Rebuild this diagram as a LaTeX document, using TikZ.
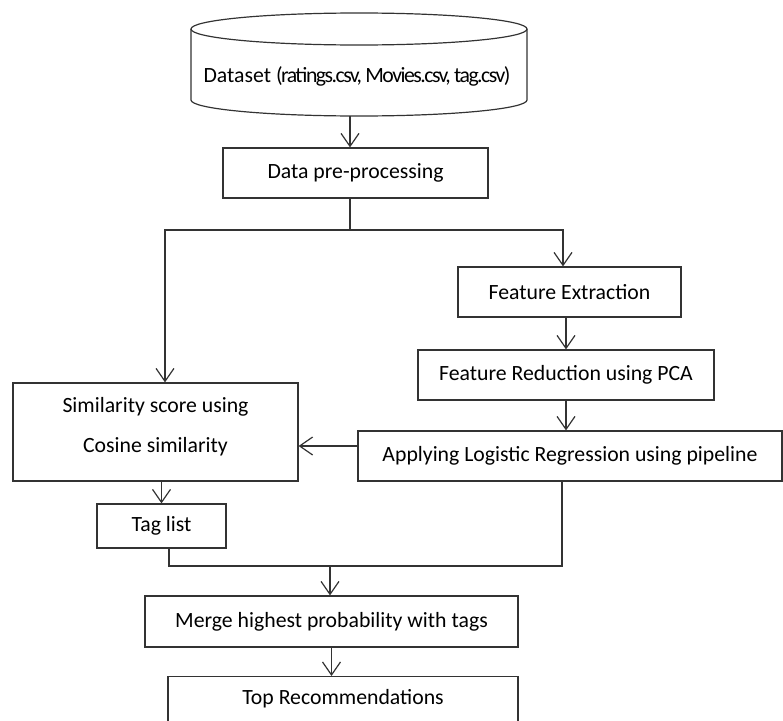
\documentclass[tikz,border=0pt]{standalone}
\usepackage{fontspec}
\setmainfont{Carlito}
\usetikzlibrary{arrows.meta}
\definecolor{LineGray}{HTML}{333333}

\tikzset{
  boxfont/.style={font=\fontsize{21.75}{26}\selectfont},
  procbox/.style={draw=LineGray, line width=1.2pt, inner sep=0pt, boxfont},
  flowline/.style={draw=LineGray, line width=1.2pt},
  flowarrow/.style={flowline, -{Straight Barb[length=13pt,width=18pt]}},
}

\begin{document}
\begin{tikzpicture}[x=1pt,y=-1pt]
  \useasboundingbox (0,0) rectangle (783,720);
  % Dataset cylinder
  \draw[flowline] (359,29) ellipse [x radius=168, y radius=16];
  \draw[flowline] (191,29) -- (191,100) arc[start angle=180, end angle=0, x radius=168, y radius=16] -- (527,29);
  \node[boxfont] (db) at (357,76) {Dataset {\addfontfeature{LetterSpace=-7}(ratings.csv, Movies.csv, tag.csv)}};
  \coordinate (dbbottom) at (350,116);
  % Boxes
  \node[procbox, minimum width=265pt, minimum height=50pt] (pre) at (355.5,173) {Data pre-processing};
  \node[procbox, minimum width=223pt, minimum height=50pt] (fe) at (569.5,292) {Feature Extraction};
  \node[procbox, minimum width=296pt, minimum height=50pt] (fr) at (566,375) {Feature Reduction using PCA};
  \node[procbox, minimum width=424pt, minimum height=50pt] (lr) at (570,456) {Applying Logistic Regression using pipeline};
  \node[procbox, minimum width=285pt, minimum height=98pt, align=center, text depth=15pt] (sim) at (155.5,432)
    {Similarity score using\\[14pt]Cosine similarity};
  \node[procbox, minimum width=129pt, minimum height=44pt] (tag) at (161.5,526) {Tag list};
  \node[procbox, minimum width=373pt, minimum height=51pt] (merge) at (331.5,621.5) {Merge highest probability with tags};
  \node[procbox, minimum width=350pt, text height=28pt, text depth=50pt, anchor=north] (recs) at (343,676) {Top Recommendations};
  % Junctions
  \coordinate (split) at (350,230);
  \coordinate (mj) at (330,566);
  % Connectors
  \draw[flowarrow] (dbbottom) -- (dbbottom |- pre.north);
  \draw[flowline] ([xshift=-5.5pt]pre.south) -- (split);
  \draw[flowarrow] (split) -| ([xshift=9.5pt]sim.north);
  \draw[flowarrow] (split) -| ([xshift=-6.5pt]fe.north);
  \draw[flowarrow] (fe.south -| fr.north) -- (fr.north);
  \draw[flowarrow] (fr.south) -- (fr.south |- lr.north);
  \draw[flowarrow] ([yshift=10pt]lr.west) -- ([yshift=10pt]lr.west -| sim.east);
  \draw[flowarrow] (tag.north |- sim.south) -- (tag.north);
  \draw[flowline] ([xshift=7.5pt]tag.south) |- (mj) -| ([xshift=-8pt]lr.south);
  \draw[flowarrow] (mj) -- (mj |- merge.north);
  \draw[flowarrow] (merge.south) -- (merge.south |- recs.north);
\end{tikzpicture}
\end{document}
